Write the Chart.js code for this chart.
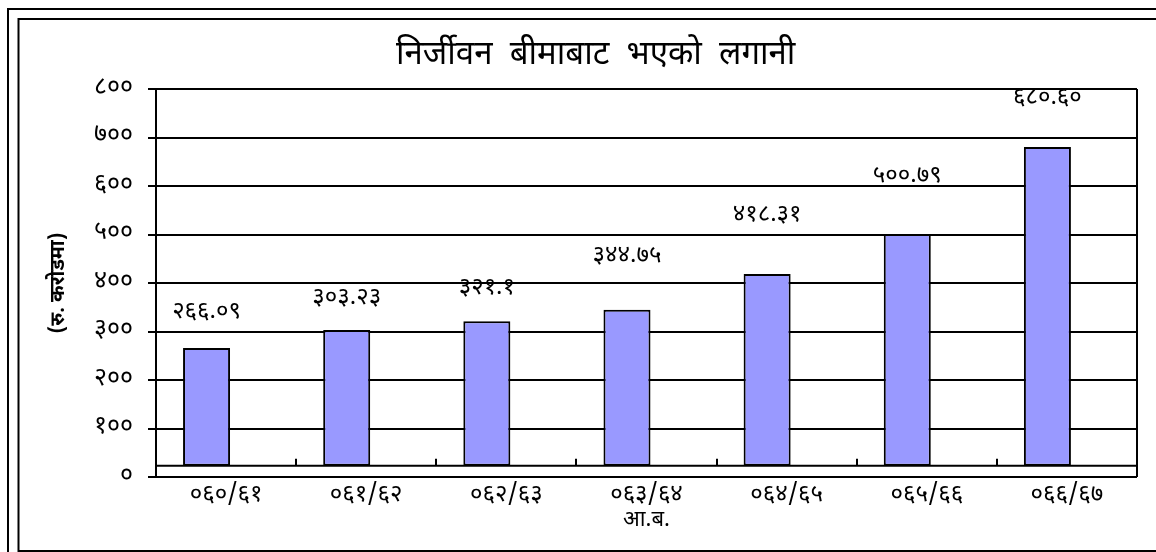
<!DOCTYPE html>
<html><head><meta charset="utf-8">
<script src="https://cdn.jsdelivr.net/npm/chart.js@4.4.1/dist/chart.umd.min.js"></script>
<style>html,body{margin:0;padding:0;background:#fff}#wrap{width:1156px;height:552px;position:relative}</style>
</head><body><div id="wrap"><canvas id="c" width="1156" height="552"></canvas></div>
<script>
// ---- data ----
const categories = ['०६०/६१', '०६१/६२', '०६२/६३', '०६३/६४', '०६४/६५', '०६५/६६', '०६६/६७'];
const values = [266.09, 303.23, 321.1, 344.75, 418.31, 500.79, 680.60];
const valueLabels = ['२६६.०९', '३०३.२३', '३२१.१', '३४४.७५', '४१८.३१', '५००.७९', '६८०.६०'];
const yTickLabels = ['०', '१००', '२००', '३००', '४००', '५००', '६००', '७००', '८००'];
const chartTitle = '    निर्जीवन  बीमाबाट  भएको  लगानी';
const yAxisTitle = '(रु. करोडमा)';
const xAxisTitle = 'आ.ब.';

// ---- style ----
const FONT = "'Noto Sans Devanagari', 'Lohit Devanagari', 'Mangal', 'Noto Sans', sans-serif";
const FLOOR = 23;               // 3D floor level of the original chart (data units)
const labelGaps = [34, 30, 32, 52, 58, 57, 47]; // px above bar top for value labels

const framePlugin = {
  id: 'frames',
  beforeDraw(chart) {
    const ctx = chart.ctx;
    ctx.save();
    ctx.fillStyle = '#fff';
    ctx.fillRect(0, 0, chart.width, chart.height);
    ctx.strokeStyle = '#000';
    ctx.lineWidth = 2;
    ctx.strokeRect(8, 9, 1200, 600);
    ctx.strokeRect(18.5, 19, 1200, 532);
    ctx.restore();
  }
};

const floorPlugin = {
  id: 'floor',
  beforeDatasetsDraw(chart) {
    const {ctx, chartArea} = chart;
    const y = chart.scales.y.getPixelForValue(FLOOR);
    const xs = chart.scales.x;
    ctx.save();
    ctx.strokeStyle = '#000';
    ctx.lineWidth = 2;
    ctx.beginPath();
    ctx.moveTo(chartArea.left, y);
    ctx.lineTo(chartArea.right, y);
    ctx.moveTo(chartArea.right, chartArea.top);
    ctx.lineTo(chartArea.right, chartArea.bottom);
    for (let i = 0; i < categories.length - 1; i++) {
      const bx = Math.round((xs.getPixelForValue(i) + xs.getPixelForValue(i + 1)) / 2);
      ctx.moveTo(bx, y);
      ctx.lineTo(bx, y - 7);
    }
    ctx.stroke();
    ctx.restore();
  },
  afterDatasetsDraw(chart) {
    const {ctx} = chart;
    const meta = chart.getDatasetMeta(0);
    ctx.save();
    ctx.fillStyle = '#000';
    ctx.font = '24px ' + FONT;
    ctx.textAlign = 'center';
    ctx.textBaseline = 'middle';
    meta.data.forEach((bar, i) => {
      ctx.fillText(valueLabels[i], bar.x, bar.y - labelGaps[i]);
    });
    ctx.restore();
  }
};

new Chart(document.getElementById('c'), {
  type: 'bar',
  data: {
    labels: categories,
    datasets: [{
      data: values,
      base: FLOOR,
      backgroundColor: '#9999FF',
      borderColor: '#000',
      borderWidth: 2,
      borderSkipped: false
    }, {
      data: categories.map(() => null)
    }]
  },
  options: {
    responsive: false,
    devicePixelRatio: 1,
    animation: false,
    categoryPercentage: 0.557,
    barPercentage: 1.205,
    layout: {padding: {left: 20, right: 19, top: 0, bottom: 0}},
    plugins: {
      legend: {display: false},
      tooltip: {enabled: false},
      title: {
        display: true,
        text: chartTitle,
        color: '#000',
        font: {family: FONT, size: 33, weight: 'normal', lineHeight: 1.2},
        padding: {top: 38, bottom: 11.4}
      }
    },
    scales: {
      x: {
        type: 'category',
        afterFit(s) { s.height = 75; },
        grid: {display: false, drawTicks: false},
        border: {display: false},
        ticks: {color: '#000', font: {family: FONT, size: 24, weight: 'normal'}, padding: 5},
        title: {display: true, text: xAxisTitle, color: '#000',
                font: {family: FONT, size: 22, weight: 'normal', lineHeight: 1.2},
                padding: {top: 0, bottom: 17}}
      },
      y: {
        min: 0, max: 800,
        afterFit(s) { s.width = 136; },
        ticks: {stepSize: 100, color: '#000', padding: 15,
                font: {family: FONT, size: 25, weight: 'normal'},
                callback: (v) => yTickLabels[Math.round(v / 100)]},
        grid: {color: '#000', lineWidth: 2, tickLength: 8, drawTicks: true},
        border: {display: true, color: '#000', width: 2},
        title: {display: true, text: yAxisTitle, color: '#000',
                font: {family: FONT, size: 20, weight: 'bold', lineHeight: 1.2},
                padding: {top: 28, bottom: 0}}
      }
    }
  },
  plugins: [framePlugin, floorPlugin]
});
</script>
</body></html>
